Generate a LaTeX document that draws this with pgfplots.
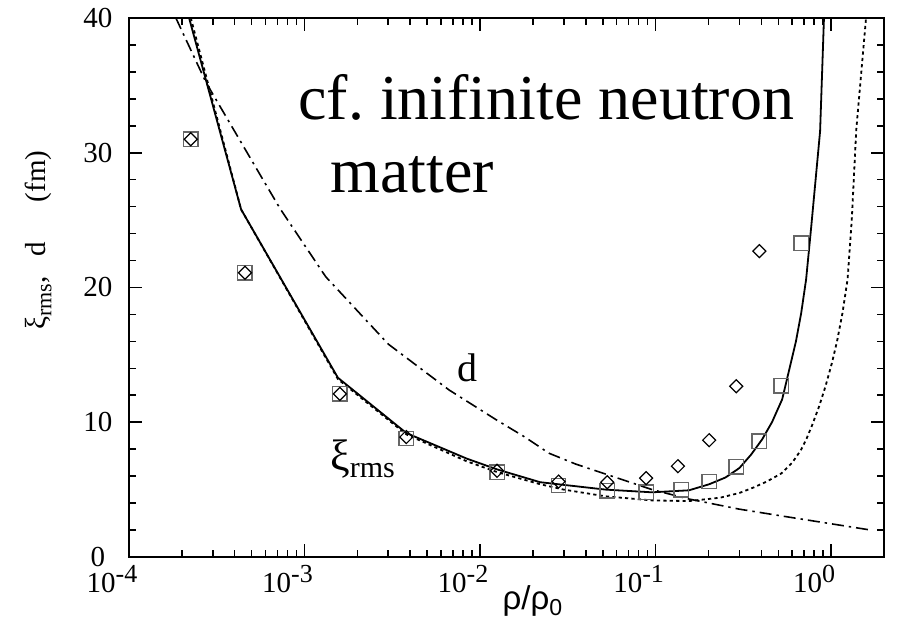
\documentclass[border=0pt]{standalone}
\usepackage{fontspec}
\setmainfont{Liberation Serif}
\setsansfont{Liberation Sans}
\usepackage{pgfplots}
\pgfplotsset{compat=1.18}

% tick label "10^n" set in text, exponent nearly full size
\newcommand{\tl}[1]{10\raisebox{5pt}{\fontsize{13}{13}\selectfont #1}}

\begin{document}
\begin{tikzpicture}
\begin{axis}[
    scale only axis,
    width=377.5pt, height=269.5pt,
    xmode=log,
    xmin=1e-4, xmax=2,
    ymin=0, ymax=40,
    xtick={1e-4,1e-3,1e-2,1e-1,1},
    xticklabels={\tl{-4},\tl{-3},\tl{-2},\tl{-1},\tl{0}},
    ytick={0,10,20,30,40},
    minor y tick num=4,
    tick align=inside,
    major tick length=6.5pt,
    minor tick length=3.5pt,
    axis line style={line width=0.9pt},
    every tick/.style={line width=0.8pt, black},
    /pgf/number format/assume math mode=true,
    x tick label style={font=\fontsize{14.5}{14.5}\selectfont, anchor=base, yshift=-18pt, xshift=-8.5pt},
    y tick label style={font=\fontsize{14.5}{14.5}\selectfont, anchor=center, xshift=-15.5pt},
    xlabel={ρ/ρ\textsubscript{0}},
    xlabel style={font=\sffamily\fontsize{16.5}{16.5}\selectfont, at={(axis description cs:0.535,0)}, anchor=base, yshift=-26.5pt},
    ylabel={ξ\raisebox{-3pt}{\fontsize{11}{11}\selectfont rms},\hspace{10pt}d\hspace{20pt}(fm)},
    ylabel style={font=\fontsize{14.5}{14.5}\selectfont, at={(axis description cs:-0.12,0.588)}, anchor=center},
]
% squares
\addplot[only marks, mark=square, mark size=3.6pt, mark options={draw=black!60, line width=0.7pt}]
coordinates {
    (2.25e-4,31.0)(4.58e-4,21.1)(1.59e-3,12.1)(3.8e-3,8.8)(0.0125,6.3)(0.028,5.3)(0.053,4.9)
    (0.0883,4.8)(0.14,5.0)(0.202,5.6)(0.288,6.7)(0.389,8.6)(0.519,12.7)(0.675,23.3)
};
% diamonds
\addplot[only marks, mark=square, mark size=2.3pt, mark options={rotate=45, draw=black, line width=0.6pt}]
coordinates {
    (2.25e-4,31.0)(4.58e-4,21.1)(1.59e-3,12.1)(3.8e-3,8.9)(0.0125,6.4)(0.028,5.6)(0.053,5.55)
    (0.0883,5.85)(0.134,6.74)(0.202,8.67)(0.288,12.67)(0.39,22.7)
};
% xi_rms, solid
\addplot[black, line width=0.9pt]
coordinates {
    (2.2e-4,40)(4.35e-4,25.8)(1.55e-3,13.3)(3.8e-3,9.2)(8.4e-3,7.3)(0.0125,6.5)(0.022,5.55)
    (0.052,5.0)(0.0955,4.8)(0.155,4.95)(0.202,5.4)(0.25,5.9)(0.30,6.6)(0.35,7.6)(0.405,8.74)
    (0.46,10.0)(0.526,11.7)(0.577,13.9)(0.63,16.0)(0.675,18.1)(0.72,20.6)(0.77,24.5)(0.865,31.6)(0.91,40)
};
% dotted
\addplot[black, line width=0.9pt, dash pattern=on 1.6pt off 1.6pt]
coordinates {
    (2.25e-4,40)(4.35e-4,25.8)(1.55e-3,13.2)(3.8e-3,9.1)(8.4e-3,7.1)(0.0125,6.3)(0.022,5.4)
    (0.03,5.0)(0.052,4.5)(0.0955,4.2)(0.155,4.15)(0.233,4.4)(0.30,4.75)(0.36,5.15)(0.43,5.6)
    (0.52,6.2)(0.6,7.0)(0.67,7.9)(0.72,8.7)(0.78,9.8)(0.855,11.2)(0.93,12.7)(1.01,14.4)
    (1.08,16.0)(1.16,18.1)(1.24,20.6)(1.31,25.0)(1.39,31.7)(1.58,40)
};
% d, dash-dot
\addplot[black, line width=0.8pt, dash pattern=on 6pt off 2.5pt on 1.2pt off 2.5pt]
coordinates {
    (1.85e-4,40)(2.75e-4,35.2)(5.8e-4,28.0)(7.3e-4,25.8)(1.32e-3,20.8)(3.0e-3,15.8)
    (6.65e-3,12.4)(0.0123,10.2)(0.018,8.9)(0.0247,7.7)(0.035,6.9)(0.052,6.15)(0.0955,5.0)
    (0.155,4.3)(0.30,3.55)(0.52,3.05)(1.68,2.0)
};
\node[anchor=base west, inner sep=0, font=\fontsize{32}{32}\selectfont] at (rel axis cs:0.2238,0.8108) {cf.\ inifinite neutron};
\node[anchor=base west, inner sep=0, font=\fontsize{32}{32}\selectfont] at (rel axis cs:0.266,0.677) {matter};
\node[anchor=base west, inner sep=0, font=\fontsize{20}{20}\selectfont] at (rel axis cs:0.434,0.325) {d};
\node[anchor=base west, inner sep=0, font=\fontsize{22}{22}\selectfont] at (rel axis cs:0.266,0.161) {ξ\raisebox{-3.5pt}{\fontsize{15}{15}\selectfont rms}};
\coordinate (bl) at (rel axis cs:0,0);
\coordinate (tr) at (rel axis cs:1,1);
\end{axis}
\pgfresetboundingbox
\path ([shift={(-64.5pt,-36.5pt)}]bl) rectangle ([shift={(6.5pt,9pt)}]tr);
\end{tikzpicture}
\end{document}
